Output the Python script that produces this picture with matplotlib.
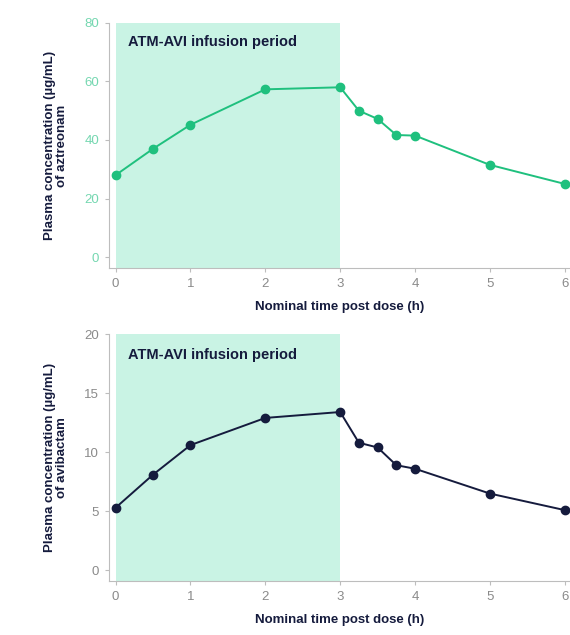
import matplotlib
matplotlib.use("Agg")
import matplotlib.pyplot as plt

# ---------------------------------------------------------------------------
# Data
# ---------------------------------------------------------------------------

TIME = [0, 0.5, 1, 2, 3, 3.25, 3.5, 3.75, 4, 5, 6]
AZTREONAM = [28.0, 37.0, 45.2, 57.3, 58.0, 50.0, 47.2, 41.7, 41.5, 31.5, 25.0]
AVIBACTAM = [5.3, 8.1, 10.6, 12.9, 13.4, 10.8, 10.4, 8.9, 8.6, 6.5, 5.1]

INFUSION = (0, 3)
X_TICKS = [0, 1, 2, 3, 4, 5, 6]

# ---------------------------------------------------------------------------
# Style
# ---------------------------------------------------------------------------

GREEN = "#1fc07e"
NAVY = "#151b3d"
SHADE = "#c9f3e4"
GREY = "#8a8a8a"
TICK_GREEN = "#74d7b0"

plt.rcParams["font.family"] = ["Liberation Sans", "DejaVu Sans"]

fig = plt.figure(figsize=(5.7, 6.35), dpi=100)
ax1 = fig.add_axes([0.191, 0.578, 0.809, 0.386])
ax2 = fig.add_axes([0.191, 0.085, 0.809, 0.389])


def draw(ax, y, color, ylim, yticks, ycolor, ylabel, text_y):
    ax.axvspan(*INFUSION, color=SHADE, lw=0, zorder=0)
    ax.plot(TIME, y, color=color, lw=1.4, marker="o", markersize=6, zorder=3,
            clip_on=False)
    ax.set_xlim(-0.09, 6.07)
    ax.set_ylim(*ylim)
    ax.set_xticks(X_TICKS)
    ax.set_yticks(yticks)
    for s in ("top", "right"):
        ax.spines[s].set_visible(False)
    for s in ("left", "bottom"):
        ax.spines[s].set_color("#bdbdbd")
        ax.spines[s].set_linewidth(0.8)
    ax.tick_params(axis="x", colors="#bdbdbd", labelcolor=GREY, labelsize=9.5,
                   length=3, pad=4)
    ax.tick_params(axis="y", colors="#bdbdbd", labelcolor=ycolor, labelsize=9.5,
                   length=3, pad=4)
    ax.set_xlabel("Nominal time post dose (h)", fontsize=9.5, fontweight="bold",
                  color=NAVY, labelpad=8)
    ax.set_ylabel(ylabel, fontsize=9.5, fontweight="bold", color=NAVY,
                  linespacing=1.0, labelpad=12)
    ax.text(0.16, text_y, "ATM-AVI infusion period", fontsize=10.5,
            fontweight="bold", color=NAVY, va="center", ha="left")


draw(ax1, AZTREONAM, GREEN, (-3.7, 80), [0, 20, 40, 60, 80], TICK_GREEN,
     "Plasma concentration (\u00b5g/mL)\nof aztreonam", 73.3)
draw(ax2, AVIBACTAM, NAVY, (-0.9, 20), [0, 5, 10, 15, 20], GREY,
     "Plasma concentration (\u00b5g/mL)\nof avibactam", 18.2)

fig.savefig("out.png", dpi=100)
